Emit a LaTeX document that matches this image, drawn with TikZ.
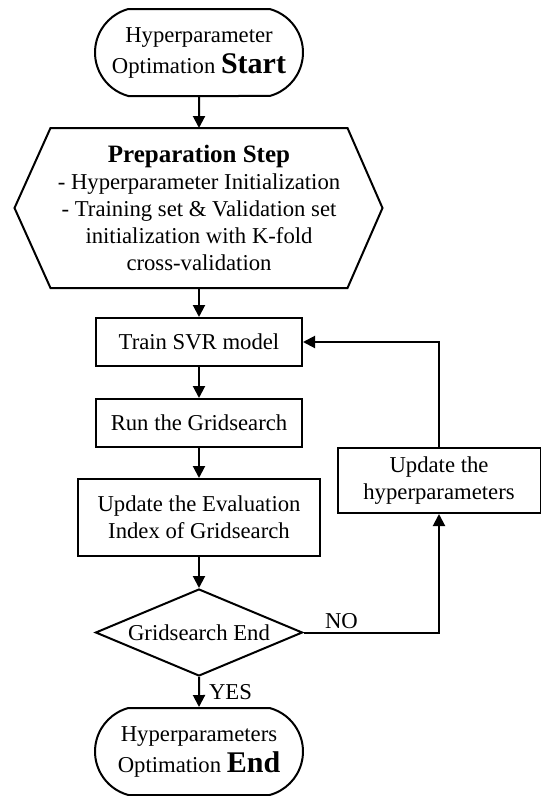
\documentclass[tikz,border=0pt]{standalone}
\usepackage{fontspec}
\setmainfont{Liberation Serif}
\usetikzlibrary{shapes.misc,shapes.geometric,arrows.meta,calc}
\begin{document}
\begin{tikzpicture}[x=1pt,y=-1pt,
  line width=2pt,
  base/.style={font=\fontsize{22.7}{27}\selectfont, align=center, inner sep=0pt},
  term/.style={base, draw, rounded rectangle, rounded rectangle arc length=150,
    minimum width=208pt, minimum height=87pt, font=\fontsize{22.7}{31}\selectfont},
  proc/.style={base, draw, rectangle},
  decis/.style={base, draw, diamond, aspect=2.38, minimum width=207pt, minimum height=87pt},
  arr/.style={-{Triangle[length=12pt,width=12pt]}, line width=2pt},
  bigb/.style={font=\fontsize{30}{30}\selectfont\bfseries},
  lbl/.style={font=\fontsize{22.7}{27}\selectfont, inner sep=0pt}
]
\useasboundingbox (0,0) rectangle (541,796);

\node[term] (start) at (199,52.5) {Hyperparameter\\Optimation {\fontsize{30}{30}\selectfont\bfseries Start}};

\node[base, minimum width=295pt, minimum height=158pt] (prep) at (199,208)
  {{\fontsize{25}{27}\selectfont\bfseries Preparation Step}\\- Hyperparameter Initialization\\- Training set \& Validation set\\initialization with K-fold\\cross-validation};
\draw (prep.north west) -- (prep.north east) -- ([xshift=35pt]prep.east)
  -- (prep.south east) -- (prep.south west) -- ([xshift=-36pt]prep.west) -- cycle;

\node[proc, minimum width=206pt, minimum height=48pt] (train) at (199,342) {Train SVR model};
\node[proc, minimum width=206pt, minimum height=48pt] (run) at (199,423) {Run the Gridsearch};
\node[proc, minimum width=242pt, minimum height=77pt] (eval) at (199,517.5) {Update the Evaluation\\Index of Gridsearch};
\node[decis] (gend) at (199,632.5) {Gridsearch End};
\node[term] (end) at (199,751.5) {Hyperparameters\\Optimation {\fontsize{30}{30}\selectfont\bfseries End}};
\node[proc, minimum width=203pt, minimum height=65pt] (upd) at (439,480.5) {Update the\\hyperparameters};

\draw[arr] (start) -- (prep.north);
\draw[arr] (prep.south) -- (train);
\draw[arr] (train) -- (run);
\draw[arr] (run) -- (eval);
\draw[arr] (eval) -- (gend);
\draw[arr] (gend) -- (end) node[midway, right=9pt, lbl] {YES};
\draw[arr] (gend.east) -| (upd.south) node[pos=0.14, above, lbl, inner sep=3pt] {NO};
\draw[arr] (upd.north) |- (train.east);
\end{tikzpicture}
\end{document}
